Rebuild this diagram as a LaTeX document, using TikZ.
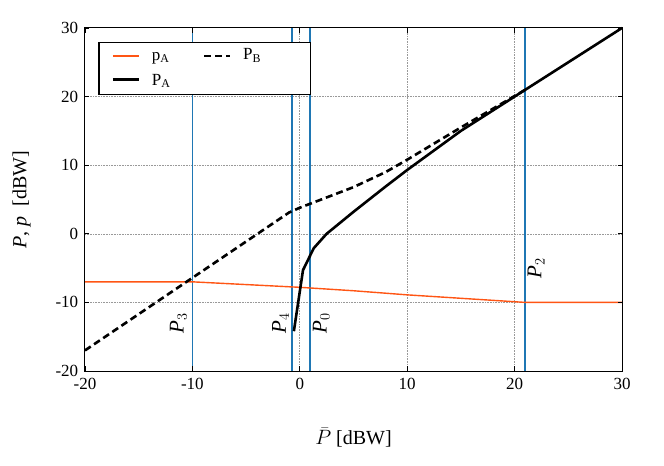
\documentclass[tikz,border=0pt]{standalone}
\usepackage{fontspec}
\setmainfont{Liberation Serif}
\begin{document}
\begin{tikzpicture}[x=10.74pt,y=6.86pt,
  grid/.style={gray!80,densely dotted,line width=0.6pt},
  vl/.style={color={rgb,255:red,31;green,119;blue,180},line width=1.5pt},
  orangec/.style={color={rgb,255:red,255;green,85;blue,20},line width=1.4pt},
  solidc/.style={black,line width=2.6pt},
  dashc/.style={black,line width=2.6pt,dash pattern=on 7pt off 4pt},
  tick/.style={font=\fontsize{17}{19}\selectfont},
  plab/.style={rotate=90,font=\fontsize{21}{23}\selectfont\itshape}]
\useasboundingbox (-27.91,-33.70) rectangle (33.91,34.08);
\foreach \x in {-10,0,10,20} \draw[grid] (\x,-20) -- (\x,30);
\foreach \y in {-10,0,10,20} \draw[grid] (-20,\y) -- (30,\y);
\draw[vl] (-10,-20) -- (-10,30);
\draw[vl] (-0.73,-20) -- (-0.73,30);
\draw[vl] (0.95,-20) -- (0.95,30);
\draw[vl] (20.97,-20) -- (20.97,30);
\draw[orangec] (-20,-7) -- (-10,-7) -- (0,-7.8) -- (5,-8.3) -- (10,-8.9) -- (21,-10) -- (30,-10);
\draw[dashc] (-20,-17) -- (-1,3.1) -- (0,3.8) -- (2,5) -- (5,6.8) -- (8,9) -- (10,10.8) -- (15,15.5) -- (21,21);
\draw[solidc] (-0.55,-14.2) -- (0.3,-5.3) -- (1.3,-2.1) -- (2.5,0) -- (5,3.2) -- (8,6.9) -- (10,9.3) -- (15,15) -- (21,21) -- (30,30);
\draw[line width=1pt] (-20,-20) rectangle (30,30);
\foreach \x in {-20,-10,0,10,20,30} {
  \draw[line width=0.8pt] (\x,-20) -- (\x,-19.2); \draw[line width=0.8pt] (\x,30) -- (\x,29.2);
  \node[tick,below] at (\x,-20.6) {\x};}
\foreach \y in {-20,-10,0,10,20,30} {
  \draw[line width=0.8pt] (-20,\y) -- (-19.6,\y); \draw[line width=0.8pt] (30,\y) -- (29.6,\y);
  \node[tick,left] at (-20.3,\y) {\y};}
\node[font=\fontsize{20}{22}\selectfont] (xl) at (5,-29.7) {$\bar{P}$ [dBW]};
\node[rotate=90,font=\fontsize{20}{22}\selectfont] (yl) at (-25.9,5) {\textit{P}, \textit{p}\ \ [dBW]};
\node[plab] (p3) at (-11.3,-13.0) {P$_3$};
\node[plab] (p4) at (-1.8,-13.0) {P$_4$};
\node[plab] (p0) at (2.0,-13.0) {P$_0$};
\node[plab] (p2) at (22.0,-5.0) {P$_2$};
\draw[fill=white,line width=1.3pt] (-18.7,27.9) rectangle (1.0,20.35);
\draw[orangec] (-17.4,25.9) -- (-15.0,25.9);
\node[anchor=west,font=\fontsize{17}{19}\selectfont] (la) at (-14.1,25.6) {p$_\mathrm{A}$};
\draw[dashc] (-8.9,25.9) -- (-6.5,25.9);
\node[anchor=west,font=\fontsize{17}{19}\selectfont] (lb) at (-5.6,26.0) {P$_\mathrm{B}$};
\draw[solidc] (-17.4,22.5) -- (-15.0,22.5);
\node[anchor=west,font=\fontsize{17}{19}\selectfont] (lc) at (-14.1,22.3) {P$_\mathrm{A}$};
\end{tikzpicture}
\end{document}
